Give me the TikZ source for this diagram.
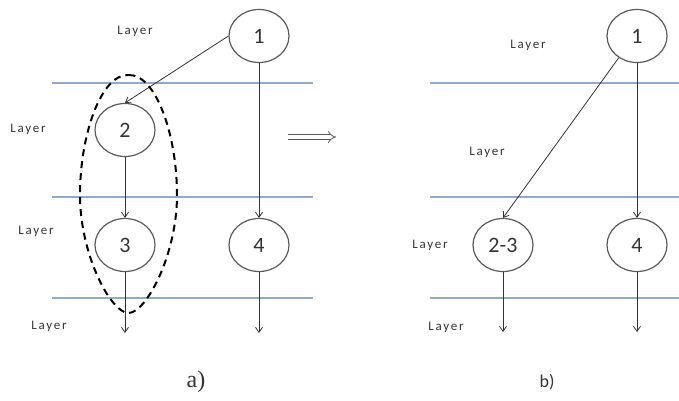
\documentclass[tikz,border=0pt]{standalone}
\usepackage{fontspec}
\setmainfont{Carlito}
\newfontfamily\serifa{Liberation Serif}
\usetikzlibrary{shapes.geometric,arrows.meta,positioning,calc}
\definecolor{layerblue}{HTML}{8FAACB}
\definecolor{ringgray}{HTML}{5A5A5A}
\definecolor{inkgray}{HTML}{333333}

\begin{document}
\begin{tikzpicture}[x=1pt,y=-1pt,
    vertex/.style={ellipse, draw=ringgray, line width=1.2pt, minimum width=60pt, minimum height=53pt, inner sep=0pt, text=inkgray, font=\fontsize{22}{24}\selectfont},
    layertext/.style={text=inkgray, font=\fontsize{13}{15}\selectfont\addfontfeature{LetterSpace=14}},
    layerline/.style={draw=layerblue, line width=1.2pt},
    flow/.style={draw=inkgray, line width=0.8pt, -{Straight Barb[length=5pt,width=7pt]}}]
\useasboundingbox (0,0) rectangle (679,400);

% layer borders
\foreach \y in {83,197,298} {
    \draw[layerline] (52,\y) -- (313,\y);
    \draw[layerline] (430,\y) -- (679,\y);
}

% a)
\node[vertex] (a1) at (259,36) {1};
\node[vertex] (a2) at (125,130) {2};
\node[vertex] (a3) at (125,245) {3};
\node[vertex] (a4) at (259,245) {4};
\coordinate (a3end) at (125,333);
\coordinate (a4end) at (259,333);
\draw[flow] (a1.west) -- (a2.north);
\draw[flow] (a1) -- (a4);
\draw[flow] (a2) -- (a3);
\draw[flow] (a3) -- (a3end);
\draw[flow] (a4) -- (a4end);
\draw[black, line width=2pt, dash pattern=on 7pt off 5pt]
    (128.5,75) .. controls (156,74) and (177,135) .. (177,195)
    .. controls (177,255) and (146,313) .. (128.5,313)
    .. controls (111,313) and (80,255) .. (80,195)
    .. controls (80,135) and (101,74) .. cycle;

\node[layertext] (la1) at (135,31) {Layer};
\node[layertext] (la2) at (28,129) {Layer};
\node[layertext] (la3) at (36,231) {Layer};
\node[layertext] (la4) at (49,326) {Layer};

\coordinate (impA) at (288,137);
\coordinate (impB) at (336,137);
\draw[ringgray, line width=0.8pt, double=white, double distance=3.5pt, -{Implies}] (impA) -- (impB);

\node[font=\serifa\fontsize{24}{26}\selectfont, text=inkgray] (capa) at (196,382) {a)};

% b)
\node[vertex] (b1) at (637,36) {1};
\node[vertex] (b23) at (503,245) {2-3};
\node[vertex] (b4) at (637,245) {4};
\coordinate (b23end) at (503,332);
\coordinate (b4end) at (637,332);
\draw[flow] (b1.230) -- (b23.north);
\draw[flow] (b1) -- (b4);
\draw[flow] (b23) -- (b23end);
\draw[flow] (b4) -- (b4end);

\node[layertext] (lb1) at (528,45) {Layer};
\node[layertext] (lb2) at (487,152) {Layer};
\node[layertext] (lb3) at (430,245) {Layer};
\node[layertext] (lb4) at (446,327) {Layer};

\node[font=\fontsize{18}{20}\selectfont, text=inkgray] (capb) at (547,382) {b)};
\end{tikzpicture}
\end{document}
